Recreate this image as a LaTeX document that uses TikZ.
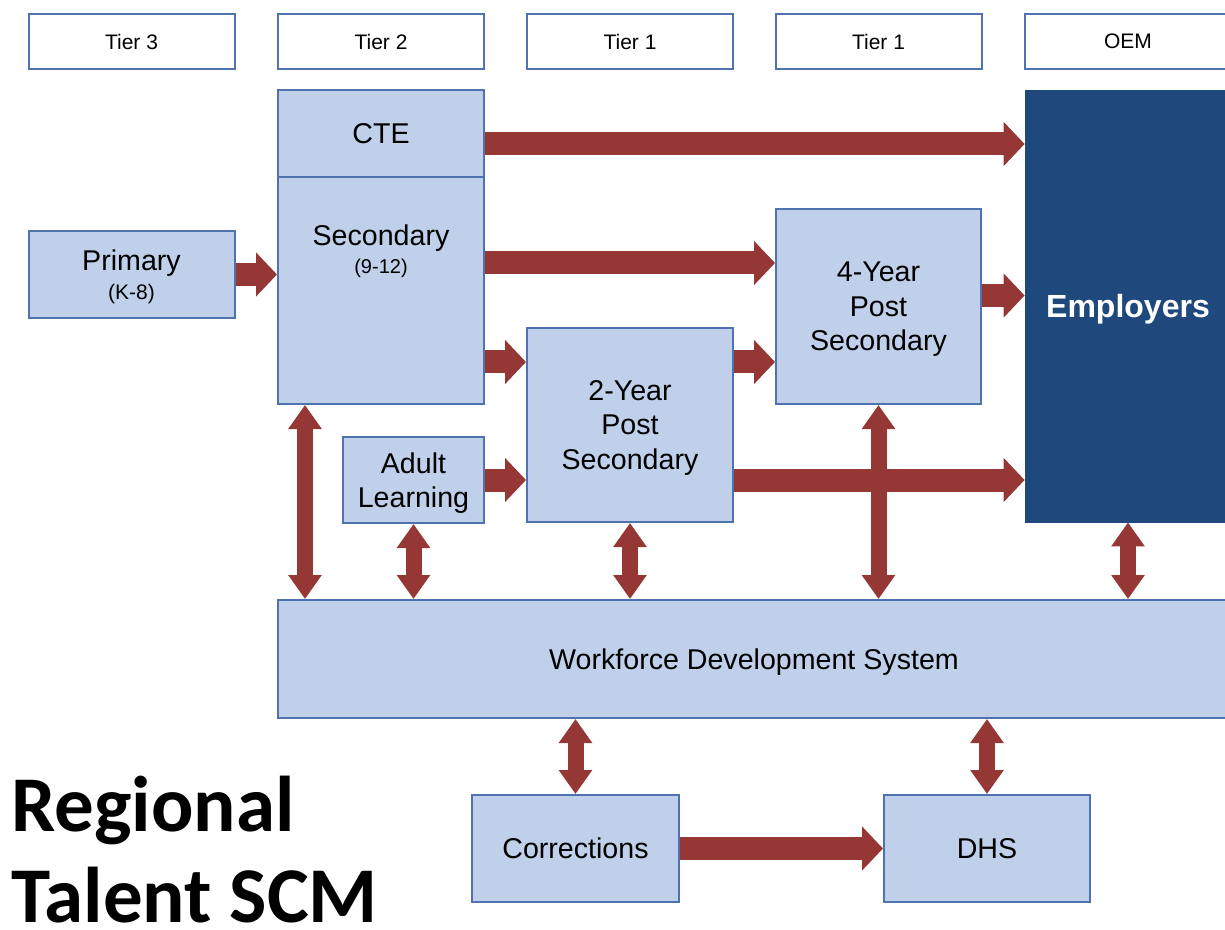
\documentclass[tikz,border=0pt]{standalone}
\usepackage{fontspec}
\setmainfont{Liberation Sans}
\newfontfamily\titlefont{Carlito}
\usetikzlibrary{positioning}
\usetikzlibrary{arrows.meta}
\usetikzlibrary{calc}

\definecolor{boxfill}{RGB}{192,208,235}
\definecolor{boxline}{RGB}{79,115,174}
\definecolor{flowred}{RGB}{149,55,53}
\definecolor{empblue}{RGB}{31,73,125}

\begin{document}
\begin{tikzpicture}[x=0.5pt, y=-0.5pt,
  tier/.style={draw=boxline, line width=1pt, fill=white, minimum width=103pt, minimum height=27.5pt, inner sep=0pt, font=\fontsize{10.5}{12}\selectfont},
  unit/.style={draw=boxline, line width=1pt, fill=boxfill, inner sep=0pt, align=center, text depth=0pt, font=\fontsize{14.3}{17.3}\selectfont},
  flow/.style={draw=flowred, line width=11.5pt, -{Triangle[width=21.5pt,length=10.5pt]}},
  link/.style={draw=flowred, line width=8pt, {Triangle[width=16pt,length=12pt]}-{Triangle[width=16pt,length=12pt]}}]
  \useasboundingbox (0,0) rectangle (1225,930);
  \clip (0,0) rectangle (1225,930);

  % tier headings
  \node[tier] (tierthree) at (131.5,41.5) {Tier 3};
  \node[tier] (tiertwo) at (381,41.5) {Tier 2};
  \node[tier] (tieronea) at (630,41.5) {Tier 1};
  \node[tier] (tieroneb) at (878.5,41.5) {Tier 1};
  \node[tier] (oem) at (1128,41.5) {OEM};

  % schools
  \node[unit, minimum width=103pt, minimum height=43.5pt, font=\fontsize{14.3}{14.5}\selectfont] (primary) at (131.5,274.5) {Primary\\{\fontsize{10.5}{12}\selectfont (K-8)}};
  \node[unit, minimum width=103pt, minimum height=43.5pt] (cte) at (381,133.5) {CTE};
  \node[unit, minimum width=103pt, minimum height=113.5pt] (secondary) at (381,290.5) {};
  \node[align=center, anchor=north, inner sep=0pt, font=\fontsize{14.3}{14}\selectfont] (seclabel) at ($(secondary.north)+(0,48)$) {Secondary\\{\fontsize{10}{12}\selectfont (9-12)}};
  \node[unit, minimum width=70.5pt, minimum height=43pt] (adult) at (413.5,480) {Adult\\Learning};
  \node[unit, minimum width=103pt, minimum height=97pt] (twoyr) at (630,425) {2-Year\\Post\\Secondary};
  \node[unit, minimum width=102.5pt, minimum height=97.5pt] (fouryr) at (878.5,306.5) {4-Year\\Post\\Secondary};
  \node[draw=empblue, fill=empblue, minimum width=103pt, minimum height=216pt, text depth=0pt, text=white, font=\fontsize{16}{18}\selectfont\bfseries] (employers) at (1128,306) {Employers};

  \node[unit, minimum width=476pt, minimum height=59pt] (workforce) at (754,659) {Workforce Development System};
  \node[unit, minimum width=103.5pt, minimum height=53.5pt] (corrections) at (575.5,848.5) {Corrections};
  \node[unit, minimum width=103pt, minimum height=53.5pt] (dhs) at (987,848.5) {DHS};

  % one way flows
  \draw[flow] (primary.east) -- (primary.east -| secondary.west);
  \draw[flow] ($(cte.east)+(0,10.5)$) -- ($(cte.east -| employers.west)+(0,10.5)$);
  \draw[flow] ($(secondary.east)+(0,-27.5)$) -- ($(secondary.east -| fouryr.west)+(0,-27.5)$);
  \draw[flow] ($(secondary.east |- twoyr.west)+(0,-63)$) -- ($(twoyr.west)+(0,-63)$);
  \draw[flow] ($(twoyr.east)+(0,-63)$) -- ($(twoyr.east -| fouryr.west)+(0,-63)$);
  \draw[flow] (adult.east) -- (adult.east -| twoyr.west);
  \draw[flow] ($(fouryr.east)+(0,-11)$) -- ($(fouryr.east -| employers.west)+(0,-11)$);
  \draw[flow] (corrections.east) -- (corrections.east -| dhs.west);

  % links to the workforce system
  \draw[link] ($(secondary.south)+(-76,0)$) -- ($(secondary.south |- workforce.north)+(-76,0)$);
  \draw[link] (adult.south) -- (adult.south |- workforce.north);
  \draw[link] (twoyr.south) -- (twoyr.south |- workforce.north);
  \draw[link] (fouryr.south) -- (fouryr.south |- workforce.north);
  \draw[flow] ($(twoyr.east)+(0,55)$) -- ($(twoyr.east -| employers.west)+(0,55)$);
  \draw[link] (employers.south) -- (employers.south |- workforce.north);
  \draw[link] (corrections.north |- workforce.south) -- (corrections.north);
  \draw[link] (dhs.north |- workforce.south) -- (dhs.north);

  % title
  \node[anchor=base west, inner sep=0pt, font=\titlefont\bfseries\fontsize{39.5}{47}\selectfont] (titletop) at (11,831) {Regional};
  \node[anchor=base west, inner sep=0pt, font=\titlefont\bfseries\fontsize{39.5}{47}\selectfont] (titlebottom) at (11,922) {Talent SCM};
\end{tikzpicture}
\end{document}
